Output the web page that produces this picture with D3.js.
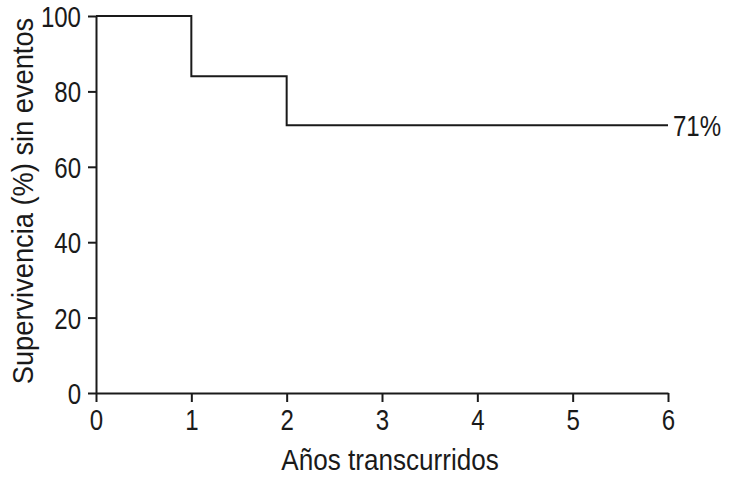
<!DOCTYPE html>
<html>
<head>
<meta charset="utf-8">
<script src="https://cdn.jsdelivr.net/npm/d3@7"></script>
<style>
body{margin:0;background:#fff}
text{font-family:"Liberation Sans",Arial,sans-serif;fill:#1a1a1a}
</style>
</head>
<body>
<div id="chart"></div>
<script>
'use strict'
// Kaplan-Meier style step data
let years=[0,1,2,6]
let survival=[100,84,71,71]
let xTicks=[0,1,2,3,4,5,6]
let yTicks=[0,20,40,60,80,100]
let endLabel="71%"
let xTitle="Años transcurridos"
let yTitle="Supervivencia (%) sin eventos"

let width=730
let height=478
let x0=96,x1=668
let y0=393,y1=16
let ink="#1a1a1a"
let fontSize=29
let narrow=0.83   // the original uses a condensed face
let xTitleNarrow=0.9
let yTitleNarrow=0.94

let svg=d3.select("#chart").append("svg").attr("width",width).attr("height",height)

let xscale=d3.scaleLinear().domain([0,6]).range([x0,x1])
let yscale=d3.scaleLinear().domain([0,100]).range([y0,y1])

let x_axis=d3.axisBottom(xscale).tickValues(xTicks).tickFormat(d3.format("d")).tickSize(9).tickPadding(7).tickSizeOuter(0)
let y_axis=d3.axisLeft(yscale).tickValues(yTicks).tickFormat(d3.format("d")).tickSize(8).tickPadding(7).tickSizeOuter(0)

let gx=svg.append("g").attr("transform","translate(0,"+y0+")").call(x_axis)
let gy=svg.append("g").attr("transform","translate("+x0+",0)").call(y_axis)
for(let g of [gx,gy]){
g.selectAll("path,line").attr("stroke",ink).attr("stroke-width",2)
g.selectAll("text").attr("font-size",fontSize).attr("fill",ink).attr("font-family",null)}
gx.selectAll(".tick text").attr("dy","0.74em").attr("transform","scale("+narrow+",1)")
gy.selectAll(".tick text").attr("dy","0.36em").attr("x",-15/narrow).attr("transform","scale("+narrow+",1)")

let line=d3.line().x(d=>xscale(d[0])).y(d=>yscale(d[1])).curve(d3.curveStepAfter)
svg.append("path").datum(years.map((y,i)=>[y,survival[i]]))
.attr("d",line).attr("fill","none").attr("stroke",ink).attr("stroke-width",2)

svg.append("text").attr("transform","translate("+(xscale(years[years.length-1])+5)+","+yscale(survival[survival.length-1])+")scale("+narrow+",1)")
.attr("dy","0.36em").attr("font-size",fontSize).text(endLabel)

svg.append("text").attr("text-anchor","middle").attr("transform","translate(390,470)scale("+xTitleNarrow+",1)")
.attr("font-size",fontSize).text(xTitle)

svg.append("text").attr("text-anchor","middle").attr("transform","translate(33,201)rotate(-90)scale("+yTitleNarrow+",1)")
.attr("font-size",fontSize).text(yTitle)
</script>
</body>
</html>
